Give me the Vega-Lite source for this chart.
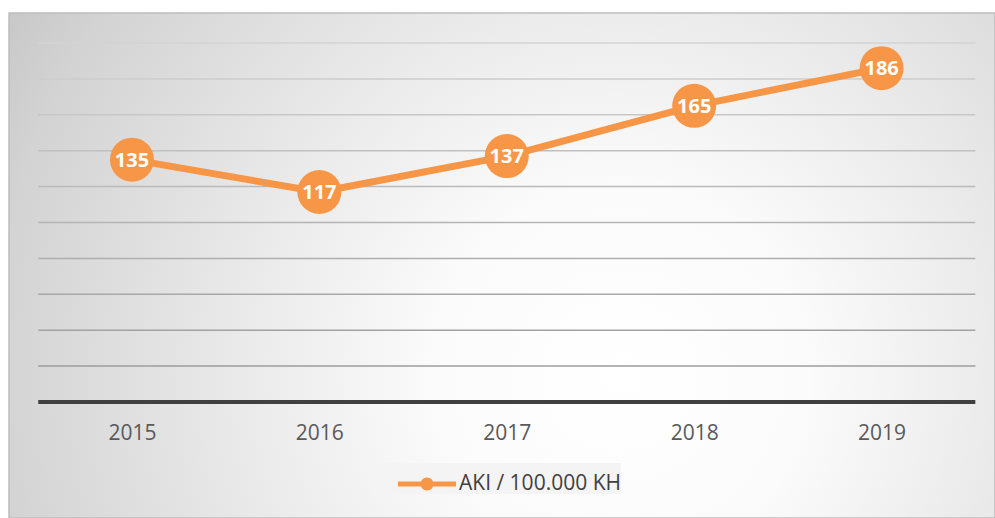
{
  "$schema": "https://vega.github.io/schema/vega-lite/v6.json",
  "autosize": {"type": "none"},
  "padding": {"left": 9, "top": 13, "right": 0, "bottom": 0},
  "width": 986,
  "height": 505,
  "background": "#ffffff",
  "config": {
    "font": "Open Sans",
    "view": {
      "stroke": "#bdbdbd",
      "strokeWidth": 1.5,
      "fill": {
        "gradient": "radial",
        "x1": 0.62, "y1": 0.61, "r1": 0,
        "x2": 0.62, "y2": 0.61, "r2": 0.75,
        "stops": [
          {"offset": 0, "color": "#ffffff"},
          {"offset": 0.25, "color": "#fbfbfb"},
          {"offset": 0.5, "color": "#ebebeb"},
          {"offset": 0.85, "color": "#d3d3d3"},
          {"offset": 1, "color": "#c4c4c4"}
        ]
      }
    }
  },
  "data": {
    "values": [
      {"year": 2015, "value": 135},
      {"year": 2016, "value": 117},
      {"year": 2017, "value": 137},
      {"year": 2018, "value": 165},
      {"year": 2019, "value": 186}
    ]
  },
  "layer": [
    {
      "data": {"values": [{"g": 20}, {"g": 40}, {"g": 60}, {"g": 80}, {"g": 100}, {"g": 120}, {"g": 140}, {"g": 160}, {"g": 180}, {"g": 200}]},
      "mark": {"type": "rule", "strokeWidth": 1.5},
      "encoding": {
        "y": {"field": "g", "type": "quantitative", "scale": {"domain": [-64.62, 216.71], "nice": false, "zero": false}, "axis": null},
        "x": {"datum": 2014.5, "type": "quantitative", "scale": {"domain": [2014.344, 2019.605], "nice": false, "zero": false}},
        "x2": {"datum": 2019.5},
        "stroke": {"field": "g", "type": "quantitative", "scale": {"domain": [20, 200], "range": ["#9c9c9c", "#d3d3d3"]}, "legend": null}
      }
    },
    {
      "data": {"values": [{}]},
      "mark": {"type": "rule", "strokeWidth": 4, "color": "#404040"},
      "encoding": {
        "y": {"datum": 0, "type": "quantitative"},
        "x": {"datum": 2014.5, "type": "quantitative"},
        "x2": {"datum": 2019.5}
      }
    },
    {
      "mark": {"type": "line", "strokeWidth": 7, "strokeCap": "round", "strokeJoin": "round"},
      "encoding": {
        "x": {
          "field": "year", "type": "quantitative",
          "axis": {
            "values": [2015, 2016, 2017, 2018, 2019],
            "format": "d",
            "offset": -116,
            "domain": false,
            "ticks": false,
            "tickSize": 0,
            "grid": false,
            "labelPadding": 20,
            "labelFont": "Open Sans",
            "labelFontSize": 21,
            "labelColor": "#595959",
            "title": null
          }
        },
        "y": {"field": "value", "type": "quantitative"},
        "color": {
          "datum": "AKI / 100.000 KH",
          "type": "nominal",
          "scale": {"range": ["#F79646"]},
          "legend": {
            "title": null,
            "orient": "none",
            "legendX": 361,
            "legendY": 450,
            "padding": 0,
            "fillColor": "#f4f4f4",
            "symbolType": "M-1.38,-0.12 L-0.286,-0.12 A0.31,0.31 0 0,1 0.286,-0.12 L1.38,-0.12 L1.38,0.12 L0.286,0.12 A0.31,0.31 0 0,1 -0.286,0.12 L-1.38,0.12 Z",
            "symbolSize": 1764,
            "symbolOffset": 36,
            "symbolStrokeWidth": 0,
            "labelFont": "Open Sans",
            "labelFontSize": 21,
            "labelColor": "#404040",
            "labelOffset": 11,
            "labelLimit": 400,
            "encode": {
              "symbols": {"update": {"fill": {"value": "#F79646"}, "stroke": {"value": "transparent"}, "strokeWidth": {"value": 0}}}
            }
          }
        }
      }
    },
    {
      "mark": {"type": "circle", "size": 1936, "opacity": 1, "color": "#F79646"},
      "encoding": {
        "x": {"field": "year", "type": "quantitative"},
        "y": {"field": "value", "type": "quantitative"}
      }
    },
    {
      "mark": {"type": "text", "font": "Open Sans", "fontSize": 20, "fontWeight": "bold", "color": "#ffffff", "baseline": "middle", "align": "center", "dy": 1},
      "encoding": {
        "x": {"field": "year", "type": "quantitative"},
        "y": {"field": "value", "type": "quantitative"},
        "text": {"field": "value", "type": "quantitative"}
      }
    }
  ]
}
